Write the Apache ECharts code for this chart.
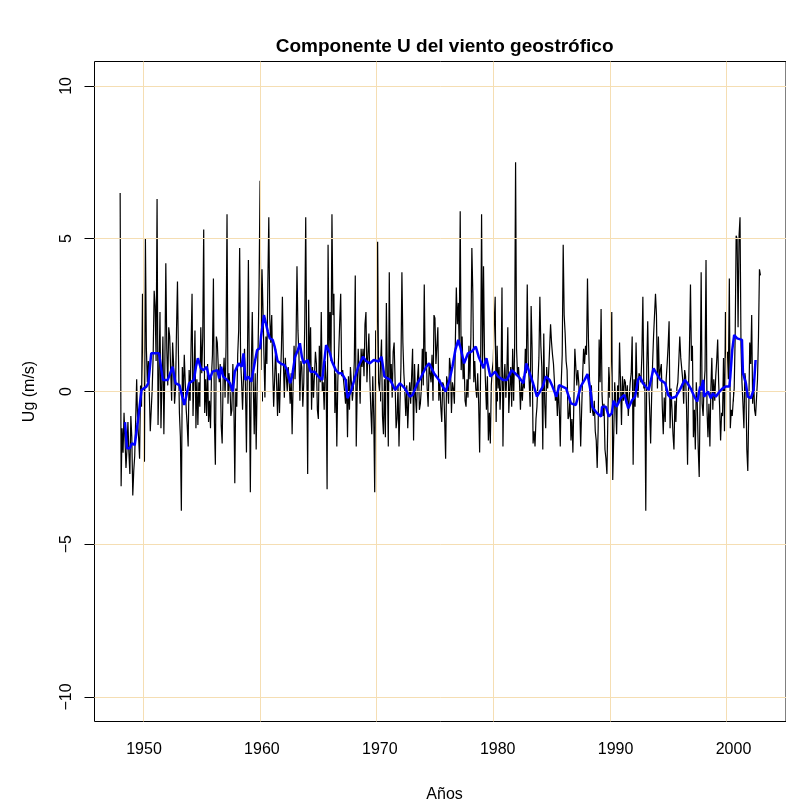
<!DOCTYPE html>
<html><head><meta charset="utf-8">
<script src="https://cdn.jsdelivr.net/npm/echarts@6/dist/echarts.min.js"></script>
<style>html,body{margin:0;padding:0;background:#fff}#c{width:786px;height:809px}</style>
</head><body><div id="c"></div>
<script>
// ---- data (monthly series, Jan 1948 onward) ----
const START_YEAR = 1948;
const ugMonthly = [
6.5,-3.1,-1.2,-2.0,-0.7,-1.6,-2.5,-1.9,-1.0,-2.0,
-2.7,-0.8,-1.5,-3.4,-2.6,-2.1,-0.9,0.4,-1.0,-1.5,
-2.2,0.2,-0.5,3.2,0.5,-2.3,5.0,1.4,0.3,1.0,
0.0,-1.3,-0.6,0.1,1.2,3.3,2.8,1.0,6.3,-1.1,
0.5,2.6,-1.2,0.3,1.8,-1.4,0.8,4.2,1.4,0.2,
2.1,1.8,0.7,-0.3,1.6,0.9,-0.4,0.1,2.0,3.6,
1.2,-0.7,-1.5,-3.9,0.8,-0.2,1.2,0.3,-0.6,-1.1,
-1.8,0.7,-0.3,1.5,3.2,-0.8,0.5,2.0,-1.2,0.4,
-1.1,0.3,-0.5,2.1,0.6,1.8,5.3,-0.7,0.4,-0.8,
0.9,-1.0,-0.3,-1.2,0.5,1.2,3.7,-1.0,-2.4,1.8,
1.6,0.8,0.3,0.9,-1.1,-1.7,0.4,1.1,-0.2,1.5,
5.8,-0.4,0.6,0.2,-0.8,-0.6,0.9,-0.2,-3.0,0.1,
-0.5,1.2,2.0,4.7,1.0,0.3,-0.6,0.5,1.4,0.1,
-2.0,1.0,4.3,0.5,-3.3,0.8,2.6,0.3,-1.4,0.6,
-1.9,0.2,1.5,3.5,6.9,0.7,4.0,2.7,1.2,-0.2,
1.8,0.9,3.5,5.7,2.4,1.6,2.5,0.7,-0.5,0.4,
1.4,0.3,-0.8,0.6,-0.7,0.5,1.4,3.1,1.0,-0.2,
1.1,0.5,0.0,0.8,0.3,-0.4,0.6,-1.4,0.2,1.5,
0.4,1.5,4.1,2.0,1.2,-0.3,1.0,0.8,-0.5,0.3,
2.2,5.7,1.2,-2.7,3.0,0.7,2.1,-0.6,0.8,-0.2,
-0.2,1.3,0.9,-0.6,-0.9,1.5,0.3,2.6,0.0,0.3,
-0.6,1.0,0.4,-3.2,4.8,1.3,2.6,1.0,5.8,2.5,
3.2,-0.7,0.6,-1.8,0.3,0.3,2.3,3.2,0.5,0.7,
0.7,0.0,-0.4,0.4,-1.5,0.5,-0.6,0.8,0.3,-0.3,
0.1,1.0,3.8,-1.8,0.1,1.4,0.6,-0.4,1.4,0.8,
1.4,0.5,2.2,2.6,0.3,1.2,1.9,0.4,-0.6,-1.4,
0.5,-0.8,-3.3,2.0,1.0,4.9,0.3,0.0,0.9,1.7,
-0.8,-1.4,0.4,-1.5,2.9,0.6,-1.8,3.9,0.3,0.9,
-0.2,1.3,1.6,0.3,-1.2,-0.9,0.2,-1.8,-0.4,0.8,
3.9,1.6,0.6,0.0,-0.8,0.2,-1.2,-0.3,0.3,-0.4,
0.5,1.4,-1.6,0.9,-0.2,-0.7,0.4,0.9,-0.6,-0.4,
0.1,1.4,0.2,3.5,0.7,1.3,0.1,-0.5,0.9,0.6,
0.3,1.2,-0.3,2.5,2.4,0.9,1.5,2.1,-0.3,0.4,
-0.5,-1.0,0.3,0.2,-0.9,-2.2,0.5,0.3,-0.4,1.1,
0.8,-0.7,0.3,0.1,-0.4,1.6,3.4,2.2,2.9,1.5,
5.9,0.7,1.8,0.4,1.0,-0.3,-0.5,0.4,-0.2,1.5,
0.4,1.8,4.7,3.2,0.3,1.0,0.1,-0.2,0.6,-0.4,
-2.0,0.7,5.8,0.9,4.1,1.2,0.3,-0.6,0.5,-1.6,
-0.7,-1.7,0.2,0.7,1.0,2.2,3.1,-1.0,1.5,0.1,
0.8,-0.6,0.3,3.4,-1.8,0.4,0.9,-0.2,0.6,2.1,
-0.7,0.1,0.8,-0.5,1.4,-0.3,1.4,7.5,1.4,0.5,
0.8,0.3,-0.6,0.3,-0.3,0.5,0.1,1.4,0.6,3.5,
1.0,0.3,-0.5,2.8,1.4,-1.7,-1.3,-1.8,-0.9,-0.5,
0.3,1.1,3.1,1.5,0.8,-1.9,1.9,-0.4,-1.2,0.8,
0.1,0.6,1.4,2.2,1.6,1.2,0.9,0.3,-0.3,0.0,
-0.8,0.2,-0.6,-1.8,0.3,1.2,4.8,2.5,1.9,1.0,
0.7,-0.9,-0.8,-0.2,-1.6,-0.9,-2.0,-0.3,1.4,0.8,
0.2,0.7,0.3,-0.5,-1.8,-0.6,0.5,1.4,0.9,1.5,
1.2,3.7,1.7,0.5,-0.7,0.2,-0.6,-0.8,-0.3,-1.3,
-1.6,-2.5,-1.2,1.7,0.3,2.7,-0.1,-0.8,-0.4,-1.9,
-2.2,-2.7,-0.8,0.8,-0.2,0.9,2.6,-2.9,-1.5,0.3,
-0.4,-1.4,0.2,-0.4,1.6,0.3,-1.1,0.5,-0.3,0.4,
0.3,-0.4,0.2,-0.8,-0.2,0.3,0.6,1.8,-2.4,0.4,
-0.5,1.6,0.1,-0.2,0.6,0.5,0.3,1.2,3.1,0.1,
0.3,-3.9,0.8,2.3,0.3,-0.6,-1.7,-0.2,0.9,1.8,
1.8,3.2,2.5,0.1,1.8,0.4,0.7,0.9,-0.5,-1.4,
-0.2,-1.0,0.4,0.9,1.5,2.3,-1.2,0.1,-0.6,-1.4,
-1.9,-0.3,-1.0,0.1,0.3,1.0,1.8,1.1,1.1,0.4,
-0.4,0.7,0.5,-0.6,-2.4,0.1,1.5,3.5,1.0,1.5,
-1.5,-0.6,-1.9,0.3,-0.4,-1.9,-2.8,0.1,3.9,-0.4,
-0.8,0.2,0.7,4.3,-0.6,-1.5,-0.4,-1.8,0.1,1.1,
-0.6,0.4,-0.3,0.5,1.0,1.7,0.3,-0.5,-1.6,-0.7,
-0.8,1.1,-1.3,2.6,1.1,1.3,0.4,3.7,-1.2,-0.6,
-0.8,-0.3,0.1,1.8,5.1,5.0,2.1,5.1,5.7,1.5,
0.3,-0.4,-1.2,0.6,0.3,-1.9,-2.6,-0.6,1.6,0.9,
2.5,-0.4,0.4,-0.6,-0.8,-0.2,0.4,1.8,4.0,3.8
];
// smoothed (blue) curve: month index since Jan 1948, value
const blueMonth = [5,7,10,12,15,18,22,27,29,32,35,40,42,44,49,54,57,61,66,71,76,78,80,83,86,89,92,95,97,100,102,104,106,110,113,116,118,122,125,127,129,132,135,139,141,144,145,148,150,152,154,157,159,162,166,169,172,175,177,180,183,185,187,189,193,196,200,204,208,212,216,218,222,225,228,232,234,238,241,245,250,253,257,261,266,269,272,278,283,288,293,298,301,306,310,315,318,323,328,335,339,342,345,348,350,354,358,362,366,369,374,377,381,386,389,394,398,403,410,415,418,422,425,429,435,438,442,445,449,452,459,464,469,474,478,481,484,486,488,491,495,496,500,503,506,508,511,515,519,523,527,530,533,535,538,540,544,549,551,556,561,564,567,572,576,581,584,588,591,594,597,598,600,601,605,608,610,613,617,620,623,627,628,630,632,635,640,641,643,644,646,649,650,652,654];
const blueValue = [-1.0,-1.86,-1.86,-1.7,-1.75,-1.04,0.05,0.16,0.27,1.25,1.25,1.25,0.81,0.38,0.38,0.81,0.27,0.21,-0.44,0.27,0.38,0.81,1.09,0.76,0.7,0.81,0.38,0.65,0.7,0.7,0.43,0.81,0.49,0.38,0.27,0.0,0.65,0.92,0.81,1.25,0.38,0.49,0.32,1.03,1.36,1.42,1.8,2.5,2.23,1.96,1.74,1.69,1.47,1.0,0.9,0.87,0.7,0.27,0.49,1.14,1.36,1.58,1.14,0.92,1.03,0.65,0.65,0.49,0.38,1.52,1.25,0.98,0.7,0.6,0.6,0.38,-0.22,0.05,0.38,0.81,1.14,1.0,0.92,1.03,0.98,1.14,0.49,0.38,0.05,0.27,0.1,-0.17,-0.11,0.27,0.49,0.81,0.92,0.6,0.38,0.0,0.38,0.81,1.36,1.69,1.47,0.92,1.25,1.31,1.47,1.14,0.76,1.09,0.49,0.65,0.49,0.38,0.38,0.7,0.49,0.27,0.92,0.55,0.27,-0.17,0.16,0.49,0.38,0.16,-0.17,0.21,0.1,-0.39,-0.44,0.16,0.38,0.57,0.05,-0.5,-0.6,-0.71,-0.82,-0.5,-0.5,-0.82,-0.71,-0.3,-0.5,-0.22,-0.11,-0.55,-0.28,-0.17,0.38,0.49,0.27,0.27,0.05,0.76,0.81,0.38,0.27,-0.11,-0.22,-0.17,0.05,0.38,0.27,0.05,-0.17,-0.33,0.16,0.05,0.38,-0.17,0.0,-0.22,-0.06,-0.17,0.0,0.1,0.16,0.16,0.49,1.36,1.85,1.74,1.69,0.6,0.38,0.27,-0.17,-0.22,-0.17,0.05,1.03];
const xTicks = [1950, 1960, 1970, 1980, 1990, 2000];
const yTicks = [-10, -5, 0, 5, 10];
const titleText = 'Componente U del viento geostrófico';
const xTitle = 'Años';
const yTitle = 'Ug (m/s)';

// ---- build series ----
const blackData = ugMonthly.map((v, i) => [START_YEAR + i / 12, v]);
const blueData = blueMonth.map((m, i) => [START_YEAR + m / 12, blueValue[i]]);

const FONT = '"Liberation Sans", Arial, Helvetica, sans-serif';
const chart = echarts.init(document.getElementById('c'), null, {renderer: 'canvas'});
const option = {
  animation: false,
  backgroundColor: '#ffffff',
  grid: [
    {left: 94.5, top: 61.5, width: 699.3, height: 660, show: true, borderColor: '#000', borderWidth: 1, backgroundColor: 'transparent', containLabel: false},
    {left: 144, top: 85.9, width: 589.5, height: 611.1, show: false, containLabel: false}
  ],
  xAxis: [
    {gridIndex: 0, type: 'value', min: 1945.80, max: 2005.11, show: false},
    {gridIndex: 1, type: 'value', min: xTicks[0], max: xTicks[xTicks.length - 1], interval: 10, position: 'bottom', offset: 24.5,
      axisLine: {show: true, lineStyle: {color: '#000', width: 1}},
      axisTick: {show: true, inside: false, length: 10, lineStyle: {color: '#000', width: 1}},
      axisLabel: {show: true, margin: 20, color: '#000', fontSize: 16, fontFamily: FONT, formatter: v => String(v)},
      splitLine: {show: false}}
  ],
  yAxis: [
    {gridIndex: 0, type: 'value', min: -10.8, max: 10.8, show: false},
    {gridIndex: 1, type: 'value', min: yTicks[0], max: yTicks[yTicks.length - 1], interval: 5, position: 'left', offset: 49.5,
      axisLine: {show: true, lineStyle: {color: '#000', width: 1}},
      axisTick: {show: true, inside: false, length: 10, lineStyle: {color: '#000', width: 1}},
      axisLabel: {show: true, margin: 20, rotate: 90, color: '#000', fontSize: 16, fontFamily: FONT,
        formatter: v => String(v).replace('-', '\u2212')},
      splitLine: {show: false}}
  ],
  series: [
    {name: 'ug', type: 'line', xAxisIndex: 0, yAxisIndex: 0, data: blackData, showSymbol: false, symbol: 'none',
      lineStyle: {color: '#000', width: 1.2}, z: 2, silent: true},
    {name: 'grid', type: 'line', xAxisIndex: 0, yAxisIndex: 0, data: [], z: 3, silent: true,
      markLine: {silent: true, symbol: ['none', 'none'], label: {show: false},
        lineStyle: {color: '#F5DEB3', width: 1, type: 'solid', opacity: 1},
        data: xTicks.map(x => ({xAxis: x})).concat(yTicks.map(y => ({yAxis: y})))}},
    {name: 'smooth', type: 'line', xAxisIndex: 0, yAxisIndex: 0, data: blueData, showSymbol: false, symbol: 'none',
      lineStyle: {color: '#0000FF', width: 2.5}, z: 5, silent: true}
  ],
  graphic: [
    {type: 'text', x: 444.6, y: 47, style: {text: titleText, fill: '#000', font: 'bold 19px ' + FONT, align: 'center', verticalAlign: 'middle'}},
    {type: 'text', x: 444.6, y: 795, style: {text: xTitle, fill: '#000', font: '16px ' + FONT, align: 'center', verticalAlign: 'middle'}},
    {type: 'text', x: 30, y: 391.5, rotation: Math.PI / 2, style: {text: yTitle, fill: '#000', font: '16px ' + FONT, align: 'center', verticalAlign: 'middle'}}
  ]
};
chart.setOption(option);
</script>
</body></html>
